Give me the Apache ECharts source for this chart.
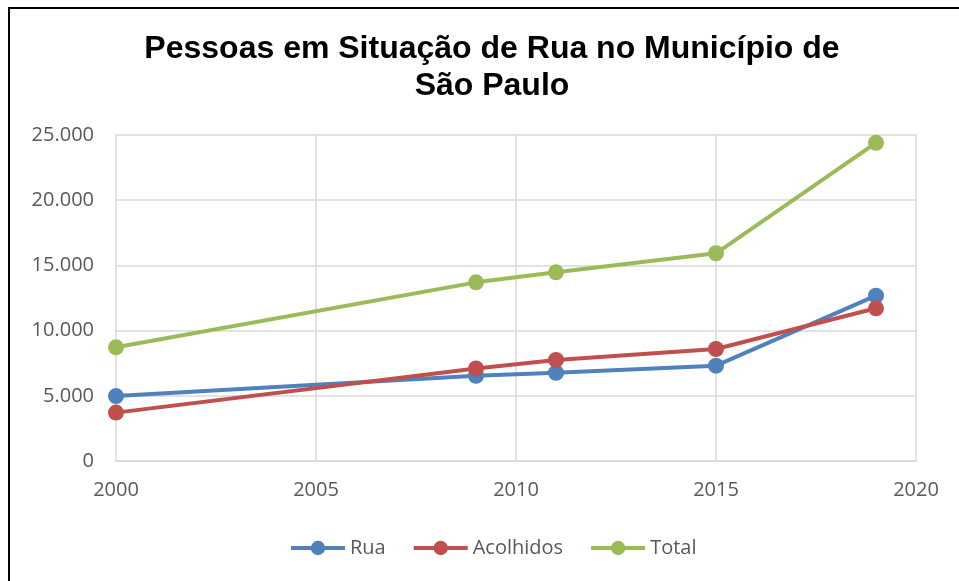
<!DOCTYPE html>
<html>
<head>
<meta charset="utf-8">
<script src="https://cdn.jsdelivr.net/npm/echarts@6/dist/echarts.min.js"></script>
<style>
  html, body { margin: 0; padding: 0; background: #fff; }
  #main { width: 959px; height: 581px; }
</style>
</head>
<body>
<div id="main"></div>
<script>
var years = [2000, 2009, 2011, 2015, 2019];
var rua = [4980, 6540, 6770, 7310, 12680];
var acolhidos = [3710, 7100, 7750, 8590, 11710];
var total = [8720, 13700, 14470, 15930, 24400];

function pairs(values) {
    return years.map(function (y, i) { return [y, values[i]]; });
}

function thousands(v) {
    return String(v).replace(/\B(?=(\d{3})+(?!\d))/g, ".");
}

var chart = echarts.init(document.getElementById("main"));
var labelFont = "'Open Sans', 'Noto Sans', sans-serif";

function lineSeries(name, color, values) {
    return {
        name: name,
        type: "line",
        data: pairs(values),
        symbol: "circle",
        symbolSize: 16,
        lineStyle: { color: color, width: 4 },
        itemStyle: { color: color },
        emphasis: { disabled: true },
    };
}

var options = {
    animation: false,
    title: {
        text: "Pessoas em Situação de Rua no Município de\nSão Paulo",
        left: 487,
        top: 26,
        textAlign: "center",
        textStyle: {
            fontFamily: "'Liberation Sans', Arial, sans-serif",
            fontSize: 32,
            fontWeight: "bold",
            color: "#000",
            lineHeight: 37,
        },
    },
    graphic: [{
        type: "rect",
        shape: { x: 9, y: 8, width: 1200, height: 1200 },
        style: { fill: "none", stroke: "#000", lineWidth: 2 },
        silent: true,
    }],
    legend: {
        left: 284,
        top: 533,
        itemWidth: 54,
        itemHeight: 18,
        itemGap: 26,
        lineStyle: { width: 4 },
        textStyle: { fontFamily: labelFont, fontSize: 20, color: "#595959" },
        data: ["Rua", "Acolhidos", "Total"],
    },
    grid: { left: 116, right: 43, top: 135, bottom: 120, containLabel: false },
    xAxis: {
        type: "value",
        min: 2000,
        max: 2020,
        interval: 5,
        axisLine: { show: true, lineStyle: { color: "#d9d9d9", width: 1.5 } },
        axisTick: { show: false },
        axisLabel: {
            margin: 19,
            fontFamily: labelFont,
            fontSize: 20,
            color: "#595959",
            formatter: function (v) { return String(v); },
        },
        splitLine: { show: true, lineStyle: { color: "#d9d9d9", width: 1.5 } },
    },
    yAxis: {
        type: "value",
        min: 0,
        max: 25000,
        interval: 5000,
        axisLine: { show: false },
        axisTick: { show: false },
        axisLabel: {
            margin: 22,
            fontFamily: labelFont,
            fontSize: 20,
            color: "#595959",
            formatter: thousands,
        },
        splitLine: { show: true, lineStyle: { color: "#d9d9d9", width: 1.5 } },
    },
    series: [
        lineSeries("Rua", "#4f81bd", rua),
        lineSeries("Acolhidos", "#c0504d", acolhidos),
        lineSeries("Total", "#9bbb59", total),
    ],
};

chart.setOption(options);
</script>
</body>
</html>
